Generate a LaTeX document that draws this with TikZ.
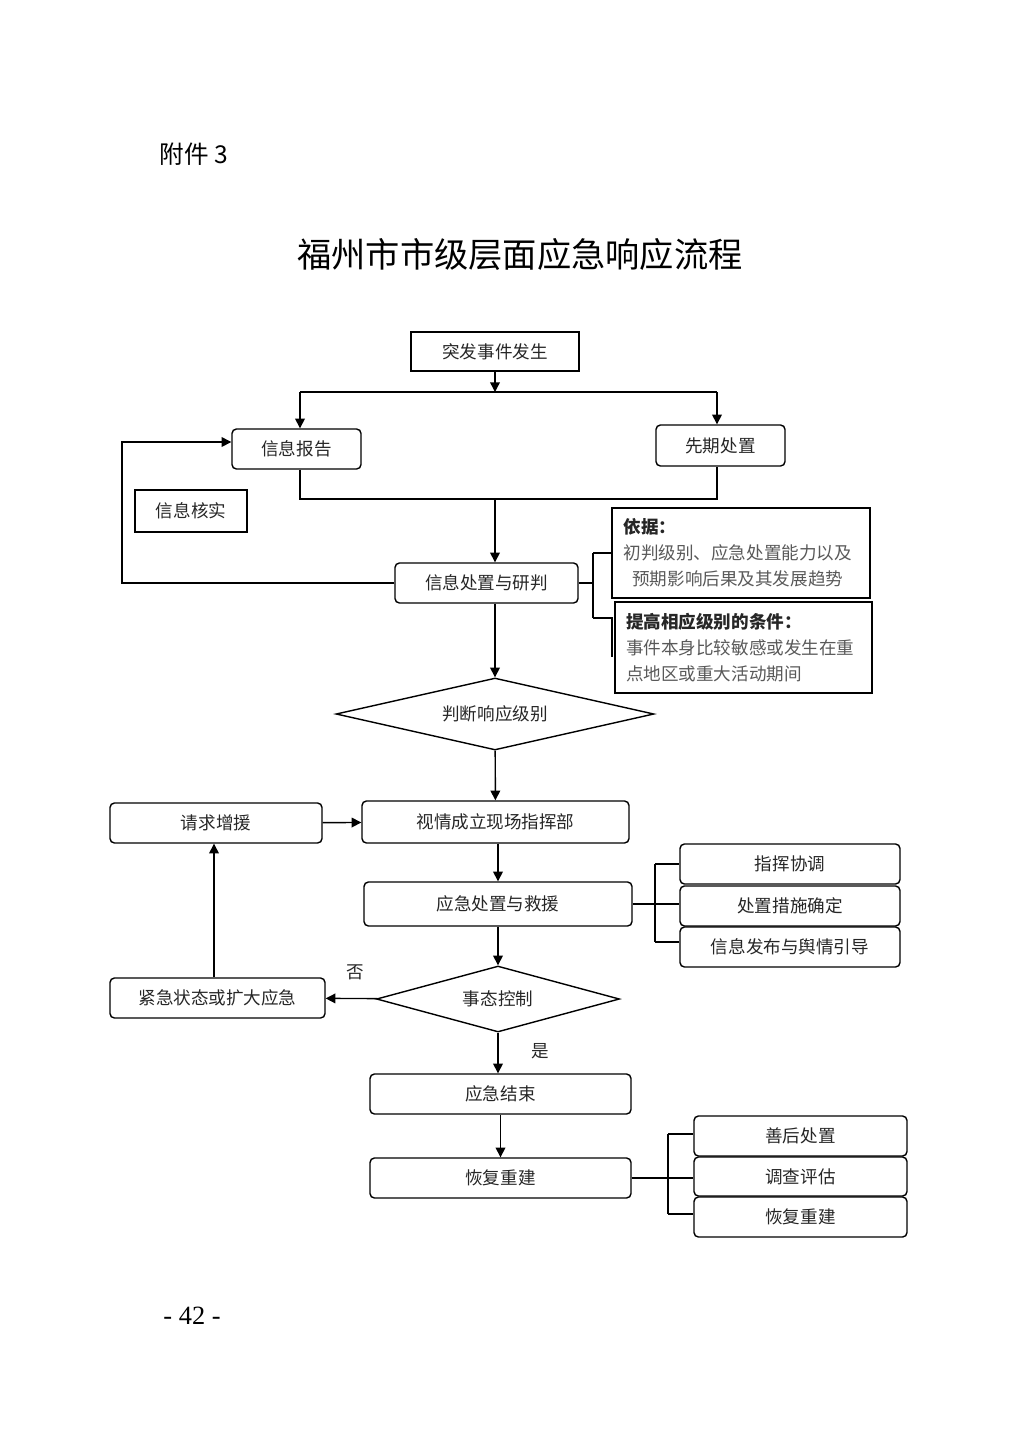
\documentclass[tikz,border=0pt]{standalone}
\usepackage{fontspec}
\setmainfont{Noto Sans CJK SC}
\newfontfamily\pagenumfont{Liberation Serif}
\usetikzlibrary{shapes.geometric,arrows.meta}

\begin{document}
\begin{tikzpicture}[x=0.02cm,y=-0.02cm,line width=0.8pt,
  >={Triangle[length=5.5pt,width=5.5pt]},
  box/.style={draw,rectangle,inner sep=1pt,text=black!85,minimum height=0.8cm,font=\fontsize{10}{12}\selectfont},
  round box/.style={box,rounded corners=2.5pt},
  note box/.style={box,align=left,text width=4.7cm,font=\fontsize{10}{14.8}\selectfont},
  decision/.style={draw,diamond,inner sep=0pt,text=black!85,font=\fontsize{10}{12}\selectfont},
  label text/.style={font=\fontsize{10}{12}\selectfont,text=black!85}]
  \useasboundingbox (0,0) rectangle (1024,1448);

  \node[font=\fontsize{14}{16}\selectfont] (annex) at (194,154) {附件 3};
  \node[font=\fontsize{19.5}{24}\selectfont] (title) at (520,254) {福州市市级层面应急响应流程};

  % upper part
  \node[box,minimum width=3.36cm,minimum height=0.78cm] (start) at (495,351.5) {突发事件发生};
  \node[round box,minimum width=2.58cm] (report) at (296.5,449) {信息报告};
  \node[round box,minimum width=2.58cm,minimum height=0.82cm] (early) at (720.5,445.5) {先期处置};
  \node[box,minimum width=2.24cm,minimum height=0.84cm] (verify) at (191,511) {信息核实};
  \node[round box,minimum width=3.66cm] (study) at (486.5,583) {信息处置与研判};
  \node[note box,minimum width=5.16cm,minimum height=1.8cm] (basis) at (741,553)
    {\textbf{依据：}\\{\color{black!65}初判级别、应急处置能力以及}\\{\color{black!65}\hspace*{0.5em}预期影响后果及其发展趋势}};
  \node[note box,minimum width=5.14cm,minimum height=1.82cm] (raise) at (743.5,647.5)
    {\textbf{提高相应级别的条件：}\\{\color{black!65}事件本身比较敏感或发生在重}\\{\color{black!65}点地区或重大活动期间}};
  \node[decision,aspect=4.4,minimum width=6.36cm,minimum height=1.44cm] (judge) at (495,714) {判断响应级别};

  % middle part
  \node[round box,minimum width=5.34cm,minimum height=0.84cm] (command) at (495.5,822) {视情成立现场指挥部};
  \node[round box,minimum width=4.24cm] (reinforce) at (216,823) {请求增援};
  \node[round box,minimum width=5.36cm,minimum height=0.88cm] (rescue) at (498,904) {应急处置与救援};
  \node[round box,minimum width=4.4cm] (coord) at (790,864) {指挥协调};
  \node[round box,minimum width=4.4cm] (measure) at (790,906) {处置措施确定};
  \node[round box,minimum width=4.4cm] (publish) at (790,947) {信息发布与舆情引导};
  \node[decision,aspect=3.7,minimum width=4.86cm,minimum height=1.32cm] (control) at (498,999) {事态控制};
  \node[round box,minimum width=4.3cm] (emergency) at (217.5,998) {紧急状态或扩大应急};
  \node[label text] (no) at (355,972) {否};
  \node[label text] (yes) at (540,1051) {是};

  % lower part
  \node[round box,minimum width=5.22cm] (finish) at (500.5,1094) {应急结束};
  \node[round box,minimum width=5.22cm] (rebuild) at (500.5,1178) {恢复重建};
  \node[round box,minimum width=4.26cm] (aftercare) at (800.5,1136) {善后处置};
  \node[round box,minimum width=4.26cm,minimum height=0.78cm] (survey) at (800.5,1176.5) {调查评估};
  \node[round box,minimum width=4.26cm] (restore) at (800.5,1217) {恢复重建};

  \coordinate (splitL) at (300,392);
  \coordinate (splitM) at (495,392);
  \coordinate (splitR) at (717,392);
  \coordinate (joinL) at (300,499);
  \coordinate (joinM) at (495,499);
  \coordinate (joinR) at (717,499);
  \coordinate (loopT) at (122,442);
  \coordinate (loopB) at (122,583);
  \coordinate (brT) at (593,553);
  \coordinate (brB) at (593,618);
  \coordinate (brE) at (612,657);
  \coordinate (brtT) at (655,864);
  \coordinate (brtB) at (655,942);
  \coordinate (brbT) at (668,1134);
  \coordinate (brbB) at (668,1214);
  \coordinate (upX) at (214,0);

  \draw[->] (start) -- (splitM);
  \draw (splitL) -- (splitR);
  \draw[->] (splitL) -- (splitL |- report.north);
  \draw[->] (splitR) -- (splitR |- early.north);
  \draw (report.south -| joinL) -- (joinL) -- (joinR) -- (early.south -| joinR);
  \draw[->] (joinM) -- (joinM |- study.north);
  \draw[->] (study.west) -- (loopB) -- (loopT) -- (loopT -| report.west);
  \draw (study.east) -- (study.east -| brT) (brT) -- (brB) (brT) -- (brT -| basis.west)
    (brB) -- (brB -| brE) -- (brE);

  \path[->]
    (study.south -| judge.north) edge (judge.north)
    (judge) edge (command)
    (reinforce) edge (command)
    (command.south -| rescue.north) edge (rescue.north)
    (rescue) edge (control)
    (control) edge (emergency)
    (emergency.north -| upX) edge (reinforce.south -| upX)
    (control) edge (control.south |- finish.north)
    (finish) edge (rebuild);

  \draw (rescue.east) -- (rescue.east -| measure.west) (brtT) -- (brtB)
    (brtT) -- (brtT -| coord.west) (brtB) -- (brtB -| publish.west);
  \draw (rebuild.east) -- (rebuild.east -| survey.west) (brbT) -- (brbB)
    (brbT) -- (brbT -| aftercare.west) (brbB) -- (brbB -| restore.west);

  \node[font=\pagenumfont\fontsize{15}{17}\selectfont] (page) at (192,1316) {-\ 42\ -};
\end{tikzpicture}
\end{document}
